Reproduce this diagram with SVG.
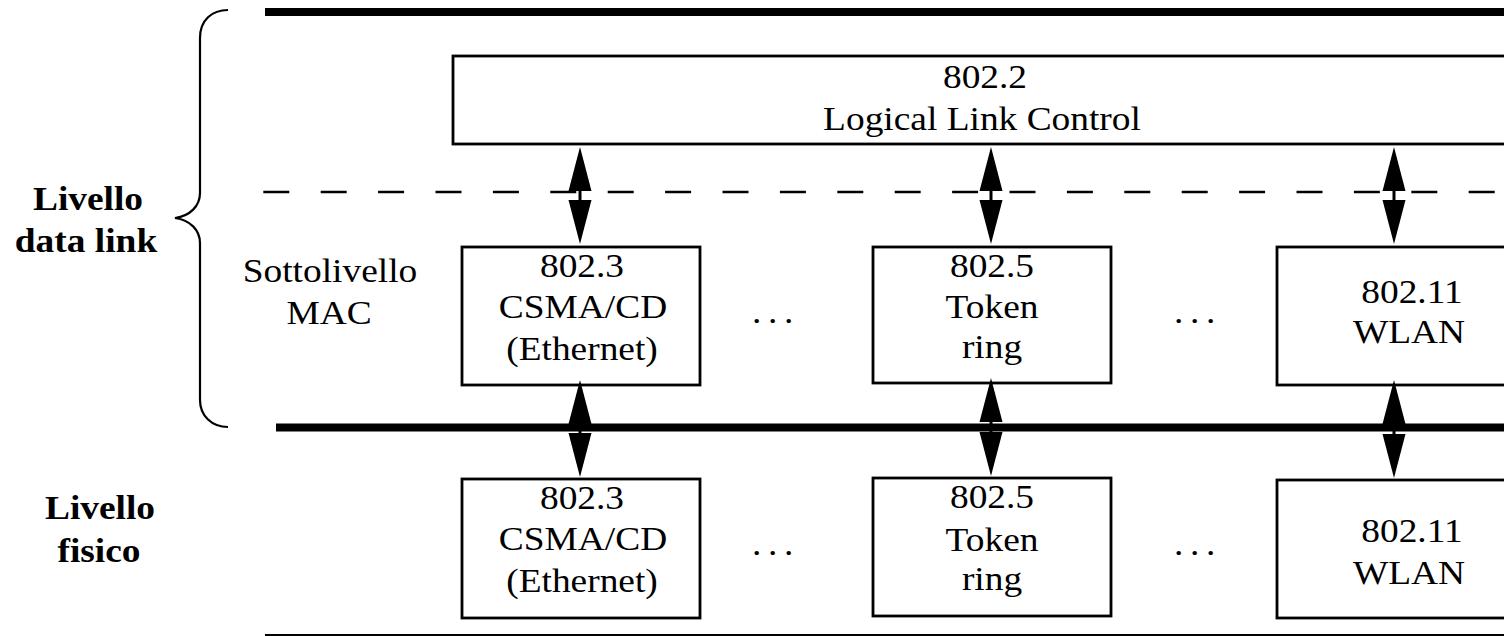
<svg xmlns="http://www.w3.org/2000/svg" xmlns:xlink="http://www.w3.org/1999/xlink" width="1504" height="636" viewBox="0 0 1504 636">
<style>
  .t { font-family: "Liberation Serif", "Times New Roman", serif; font-size: 34px; fill: #000; text-anchor: middle; }
  .b { font-weight: bold; }
  .box { fill: #fff; stroke: #000; stroke-width: 2.8; }
  .thick { stroke: #000; stroke-width: 8; fill: none; }
  .thin { stroke: #000; stroke-width: 2.2; fill: none; }
  .dash { stroke: #000; stroke-width: 2.5; fill: none; stroke-dasharray: 26 31.4; }
  .shaft { stroke: #000; stroke-width: 3; fill: none; }
  .head { fill: #000; }
  .dots { letter-spacing: 6px; }
</style>
<defs>
  <path id="headUp" class="head" d="M0,0 L11.5,44 L-11.5,44 Z"/>
  <path id="headDown" class="head" d="M0,0 L11.5,-44 L-11.5,-44 Z"/>
</defs>

<g id="layer-lines">
  <line class="thick" x1="265" y1="12" x2="1504" y2="12"/>
  <line class="dash" x1="263.3" y1="192" x2="1504" y2="192"/>
  <line class="thick" x1="276" y1="427.5" x2="1504" y2="427.5"/>
  <line class="thin" x1="265" y1="635" x2="1504" y2="635"/>
  <path class="thin" d="M228,10 C212,10 200,20 200,38 L200,193 C200,206 190,216 175,218 C190,220 200,230 200,243 L200,400 C200,416 212,427 228,427"/>
</g>

<g id="labels">
  <text class="t b" transform="translate(88 210) scale(1.1 1)">Livello</text>
  <text class="t b" transform="translate(86 252) scale(1.1 1)">data link</text>
  <text class="t" transform="translate(330 282) scale(1.1 1)">Sottolivello</text>
  <text class="t" transform="translate(329 324) scale(1.1 1)">MAC</text>
  <text class="t b" transform="translate(100 519) scale(1.1 1)">Livello</text>
  <text class="t b" transform="translate(99 562) scale(1.1 1)">fisico</text>
</g>

<g id="llc">
  <rect class="box" x="453" y="56" width="1080" height="88"/>
  <text class="t" transform="translate(985 88) scale(1.1 1)">802.2</text>
  <text class="t" transform="translate(982 130) scale(1.1 1)">Logical Link Control</text>
</g>

<g id="mac-8023">
  <rect class="box" x="462" y="247" width="238" height="138"/>
  <text class="t" transform="translate(582 277) scale(1.1 1)">802.3</text>
  <text class="t" transform="translate(583 318) scale(1.1 1)">CSMA/CD</text>
  <text class="t" transform="translate(582 360) scale(1.1 1)">(Ethernet)</text>
</g>
<g id="mac-8025">
  <rect class="box" x="873" y="247" width="238" height="136"/>
  <text class="t" transform="translate(992 277) scale(1.1 1)">802.5</text>
  <text class="t" transform="translate(992 318) scale(1.1 1)">Token</text>
  <text class="t" transform="translate(992 358) scale(1.1 1)">ring</text>
</g>
<g id="mac-80211">
  <rect class="box" x="1277" y="247" width="300" height="138"/>
  <text class="t" transform="translate(1412 303) scale(1.1 1)">802.11</text>
  <text class="t" transform="translate(1409 343) scale(1.1 1)">WLAN</text>
</g>
<g id="mac-dots">
  <text class="t dots" transform="translate(776 323) scale(1.1 1)">...</text>
  <text class="t dots" transform="translate(1198 323) scale(1.1 1)">...</text>
</g>

<g id="phy-8023">
  <rect class="box" x="462" y="479" width="238" height="139"/>
  <text class="t" transform="translate(582 509) scale(1.1 1)">802.3</text>
  <text class="t" transform="translate(583 550) scale(1.1 1)">CSMA/CD</text>
  <text class="t" transform="translate(582 592) scale(1.1 1)">(Ethernet)</text>
</g>
<g id="phy-8025">
  <rect class="box" x="873" y="478" width="238" height="138"/>
  <text class="t" transform="translate(992 508) scale(1.1 1)">802.5</text>
  <text class="t" transform="translate(992 551) scale(1.1 1)">Token</text>
  <text class="t" transform="translate(992 590) scale(1.1 1)">ring</text>
</g>
<g id="phy-80211">
  <rect class="box" x="1277" y="480" width="300" height="138"/>
  <text class="t" transform="translate(1412 542) scale(1.1 1)">802.11</text>
  <text class="t" transform="translate(1409 584) scale(1.1 1)">WLAN</text>
</g>
<g id="phy-dots">
  <text class="t dots" transform="translate(776 555) scale(1.1 1)">...</text>
  <text class="t dots" transform="translate(1198 555) scale(1.1 1)">...</text>
</g>

<g id="connectors">
  <line class="shaft" x1="580" y1="180" x2="580" y2="210"/>
  <use xlink:href="#headUp" x="580" y="147"/>
  <use xlink:href="#headDown" x="580" y="244"/>
  <line class="shaft" x1="580" y1="415" x2="580" y2="440"/>
  <use xlink:href="#headUp" x="580" y="380"/>
  <use xlink:href="#headDown" x="580" y="477"/>

  <line class="shaft" x1="991" y1="180" x2="991" y2="210"/>
  <use xlink:href="#headUp" x="991" y="147"/>
  <use xlink:href="#headDown" x="991" y="244"/>
  <line class="shaft" x1="991" y1="415" x2="991" y2="440"/>
  <use xlink:href="#headUp" x="991" y="378"/>
  <use xlink:href="#headDown" x="991" y="476"/>

  <line class="shaft" x1="1394" y1="180" x2="1394" y2="210"/>
  <use xlink:href="#headUp" x="1394" y="147"/>
  <use xlink:href="#headDown" x="1394" y="244"/>
  <line class="shaft" x1="1394" y1="415" x2="1394" y2="440"/>
  <use xlink:href="#headUp" x="1394" y="380"/>
  <use xlink:href="#headDown" x="1394" y="478"/>
</g>
</svg>
